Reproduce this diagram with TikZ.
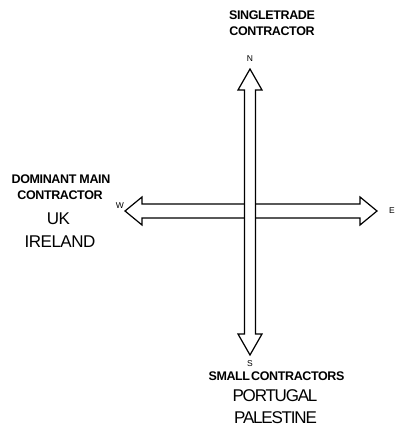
\documentclass[tikz,border=0pt]{standalone}
\usepackage{fontspec}
\setmainfont{Liberation Sans}
\begin{document}
\begin{tikzpicture}[x=1pt,y=-1pt,
  arrowshape/.style={draw=black,fill=white,line width=1.2pt,line join=miter},
  headlbl/.style={font=\fontsize{12.5}{14}\selectfont\bfseries\addfontfeature{LetterSpace=-3},anchor=base,inner sep=0pt},
  countrylbl/.style={font=\fontsize{17}{19}\selectfont\addfontfeature{LetterSpace=-3},anchor=base,inner sep=0pt},
  tightcountry/.style={font=\fontsize{17}{19}\selectfont\addfontfeature{LetterSpace=-7},anchor=base,inner sep=0pt},
  dirlbl/.style={font=\fontsize{8.5}{10}\selectfont,anchor=base,inner sep=0pt}]
\useasboundingbox (0,0) rectangle (396,427);
% horizontal double arrow
\draw[arrowshape] (125,211) -- (142,197) -- (142,204) -- (360,204) -- (360,197) -- (377,211)
  -- (360,225) -- (360,218) -- (142,218) -- (142,225) -- cycle;
% vertical double arrow
\draw[arrowshape] (250,69) -- (262,90) -- (255.5,90) -- (255.5,334) -- (262,334) -- (250,355)
  -- (238,334) -- (244.5,334) -- (244.5,90) -- (238,90) -- cycle;
% direction letters
\node[dirlbl] (n) at (250,62) {N};
\node[dirlbl] (s) at (250,366) {S};
\node[dirlbl] (e) at (392,213) {E};
\node[dirlbl] (w) at (120,208) {W};
% top
\node[headlbl] (t1) at (272,20) {SINGLETRADE};
\node[headlbl] (t2) at (272,36) {CONTRACTOR};
% left
\node[headlbl] (l1) at (61,184) {DOMINANT MAIN};
\node[headlbl] (l2) at (60,200) {CONTRACTOR};
\node[countrylbl] (l3) at (58.5,224) {UK};
\node[countrylbl] (l4) at (60,247) {IRELAND};
% bottom
\node[headlbl] (b1) at (276.5,380) {SMALL\hspace{-2pt} CONTRACTORS};
\node[tightcountry] (b2) at (275,401.5) {PORTUGAL};
\node[tightcountry] (b3) at (275.5,423.5) {PALESTINE};
\end{tikzpicture}
\end{document}
